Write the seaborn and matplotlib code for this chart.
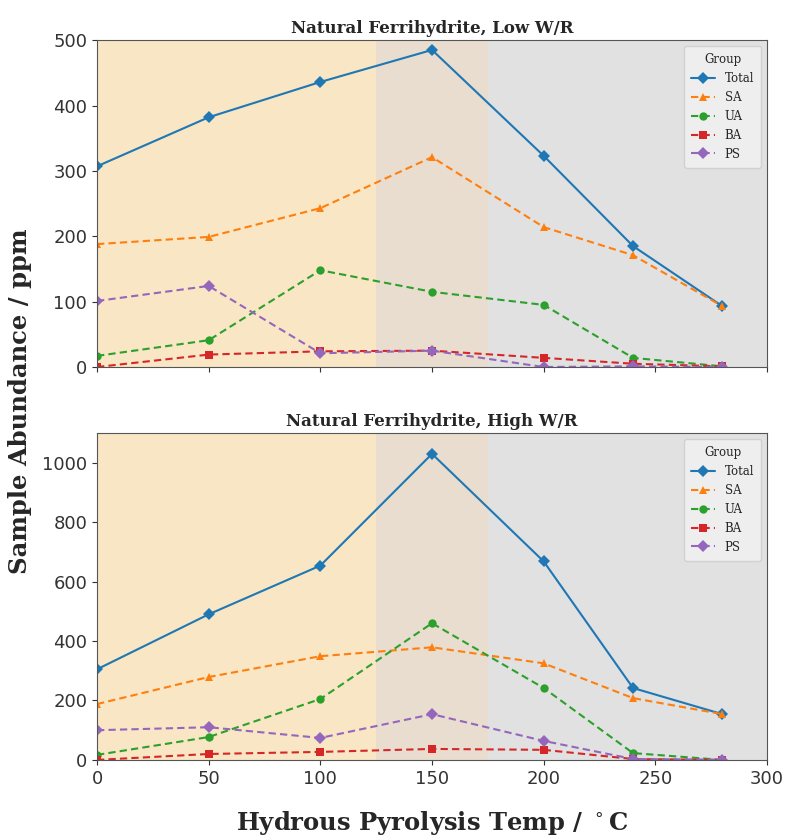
import matplotlib
matplotlib.use("Agg")
import matplotlib.pyplot as plt
import seaborn as sns
import pandas as pd

temps = [0, 50, 100, 150, 200, 240, 280]
groups = ["Total", "SA", "UA", "BA", "PS"]

low_total = [307, 382, 436, 485, 323, 185, 93]
low_sa = [188, 199, 243, 321, 214, 171, 93]
low_ua = [17, 41, 148, 115, 95, 14, 1]
low_ba = [0, 19, 24, 25, 14, 5, 1]
low_ps = [101, 124, 21, 25, 0, 1, 0]

high_total = [305, 490, 654, 1030, 668, 242, 154]
high_sa = [188, 279, 349, 379, 325, 208, 154]
high_ua = [17, 77, 205, 460, 242, 23, 0]
high_ba = [0, 20, 27, 37, 34, 3, 0]
high_ps = [100, 110, 74, 154, 64, 3, 1]

titles = ["Natural Ferrihydrite, Low W/R", "Natural Ferrihydrite, High W/R"]


def make_df(series):
    rows = []
    for g, vals in zip(groups, series):
        for t, v in zip(temps, vals):
            rows.append({"Temp": t, "Abundance": v, "Group": g})
    return pd.DataFrame(rows)


df_low = make_df([low_total, low_sa, low_ua, low_ba, low_ps])
df_high = make_df([high_total, high_sa, high_ua, high_ba, high_ps])

sns.set_style("ticks")
plt.rcParams["font.family"] = ["DejaVu Sans"]

fig = plt.figure(figsize=(7.85, 8.36), dpi=100)
ax1 = fig.add_axes([0.1236, 0.561, 0.8535, 0.391])
ax2 = fig.add_axes([0.1236, 0.091, 0.8535, 0.391], sharex=ax1)

palette = dict(zip(groups, sns.color_palette("tab10", 5)))
markers = {"Total": "D", "SA": "^", "UA": "o", "BA": "s", "PS": "D"}
dashes = {"Total": "", "SA": (3.5, 2), "UA": (3.5, 2), "BA": (3.5, 2), "PS": (3.5, 2)}

for ax, df, title, ymax in [(ax1, df_low, titles[0], 500), (ax2, df_high, titles[1], 1100)]:
    ax.axvspan(0, 125, color="#f9e6c4", zorder=0, lw=0)
    ax.axvspan(125, 175, color="#e9ddcf", zorder=0, lw=0)
    ax.axvspan(175, 300, color="#e1e1e1", zorder=0, lw=0)
    sns.lineplot(data=df, x="Temp", y="Abundance", hue="Group", style="Group",
                 hue_order=groups, style_order=groups, palette=palette,
                 markers=markers, dashes=dashes, markersize=6, linewidth=1.5,
                 markeredgewidth=0, ax=ax)
    ax.set_xlim(0, 300)
    ax.set_ylim(0, ymax)
    ax.set_xlabel("")
    ax.set_ylabel("")
    ax.set_title(title, family="DejaVu Serif", fontweight="bold", fontsize=12, pad=5)
    ax.tick_params(labelsize=13, colors="#333333")
    for s in ax.spines.values():
        s.set_color("#555555")
    leg = ax.legend(title="Group", loc="upper right", prop={"family": "DejaVu Serif", "size": 8.5},
                    frameon=True, borderpad=0.6)
    leg.get_title().set_family("DejaVu Serif")
    leg.get_title().set_fontsize(8.5)
    leg.get_frame().set_facecolor("#f2f2f2")
    leg.get_frame().set_edgecolor("#cccccc")

ax1.set_yticks([0, 100, 200, 300, 400, 500])
ax2.set_yticks([0, 200, 400, 600, 800, 1000])
ax1.set_xticks([0, 50, 100, 150, 200, 250, 300])
plt.setp(ax1.get_xticklabels(), visible=False)

fig.text(0.026, 0.52, "Sample Abundance / ppm", rotation=90, va="center", ha="center",
         family="DejaVu Serif", fontweight="bold", fontsize=17.5)
fig.text(0.55, 0.016, "Hydrous Pyrolysis Temp / $^\\circ$C", va="center", ha="center",
         family="DejaVu Serif", fontweight="bold", fontsize=17.5)

fig.savefig("out.png", dpi=100)
